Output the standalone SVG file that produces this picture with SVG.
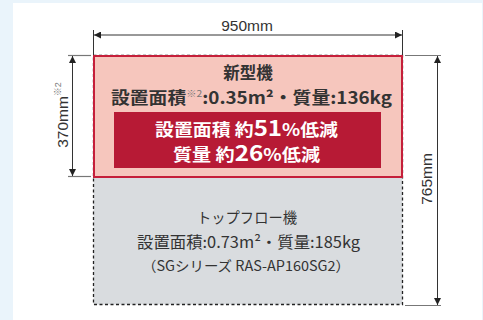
<svg xmlns="http://www.w3.org/2000/svg" width="483" height="320" viewBox="0 0 483 320">
<style>
.jp{font-family:"Noto Sans CJK JP","Noto Sans",sans-serif}
.dim{font-family:"Liberation Sans","Noto Sans CJK JP",sans-serif;font-size:15.5px;fill:#333}
.dl{stroke:#333;stroke-width:1;fill:none}
.ext{stroke:#777;stroke-width:1.2;fill:none}
</style>
<defs>
<marker id="ah" viewBox="0 0 10 10" refX="10" refY="5" markerWidth="7" markerHeight="7" orient="auto-start-reverse" markerUnits="userSpaceOnUse">
<path d="M0,0 L10,5 L0,10 z" fill="#222"/>
</marker>
</defs>
<rect x="0" y="0" width="483" height="320" fill="#eaf4fb"/>
<rect x="13" y="3" width="469" height="317" fill="#fff"/>

<g id="old-unit">
<rect x="93.5" y="55.5" width="309" height="249" fill="#d9dcdf" stroke="#222" stroke-width="1.3" stroke-dasharray="3,2.5"/>
<text class="jp" x="197" y="223" textLength="100" lengthAdjust="spacingAndGlyphs" font-size="14.5" fill="#333">トップフロー機</text>
<text class="jp" x="137" y="248" textLength="223" lengthAdjust="spacingAndGlyphs" font-size="15.5" fill="#333">設置面積:0.73m²・質量:185kg</text>
<text class="jp" x="142" y="271" textLength="208" lengthAdjust="spacingAndGlyphs" font-size="14" fill="#333">（SGシリーズ RAS-AP160SG2）</text>
</g>

<g id="new-unit">
<rect x="94" y="56" width="308" height="121" fill="#f6c6bd" stroke="#c51f3a" stroke-width="2"/>
<text class="jp" x="248" y="79" text-anchor="middle" font-size="16.5" font-weight="bold" fill="#333">新型機</text>
<text class="jp" x="111" y="104" textLength="281" lengthAdjust="spacingAndGlyphs" font-size="16.5" font-weight="bold" fill="#333">設置面積<tspan font-size="9" font-weight="normal" fill="#777" dy="-7">※2</tspan><tspan dy="7">:0.35m²・質量:136kg</tspan></text>
</g>

<g id="reduction">
<rect x="114" y="112" width="267" height="56" fill="#b71a35"/>
<text class="jp" x="155" y="136" textLength="183" lengthAdjust="spacingAndGlyphs" font-size="16.5" font-weight="bold" fill="#fff">設置面積 約<tspan font-size="21">51</tspan>%低減</text>
<text class="jp" x="173" y="161" textLength="147" lengthAdjust="spacingAndGlyphs" font-size="16.5" font-weight="bold" fill="#fff">質量 約<tspan font-size="21">26</tspan>%低減</text>
</g>

<g id="connectors">
<line class="dl" x1="93.5" y1="30" x2="93.5" y2="55"/>
<line class="dl" x1="402.5" y1="30" x2="402.5" y2="55"/>
<line class="dl" x1="94" y1="35" x2="402" y2="35" marker-start="url(#ah)" marker-end="url(#ah)"/>
<line class="ext" x1="68" y1="55.5" x2="91" y2="55.5"/>
<line class="ext" x1="68" y1="176.5" x2="91" y2="176.5"/>
<line class="dl" x1="72.5" y1="56" x2="72.5" y2="176" marker-start="url(#ah)" marker-end="url(#ah)"/>
<line class="ext" x1="405" y1="55.5" x2="441" y2="55.5"/>
<line class="ext" x1="405" y1="305.5" x2="441" y2="305.5"/>
<line class="dl" x1="437.5" y1="56" x2="437.5" y2="305" stroke="#555" marker-start="url(#ah)" marker-end="url(#ah)"/>
</g>

<g id="labels">
<text class="dim" x="247" y="31" text-anchor="middle">950mm</text>
<text class="dim" transform="translate(68,115) rotate(-90)" text-anchor="middle">370mm<tspan font-size="9" fill="#777" dy="-7">※2</tspan></text>
<text class="dim" transform="translate(432,179) rotate(-90)" text-anchor="middle">765mm</text>
</g>
</svg>
